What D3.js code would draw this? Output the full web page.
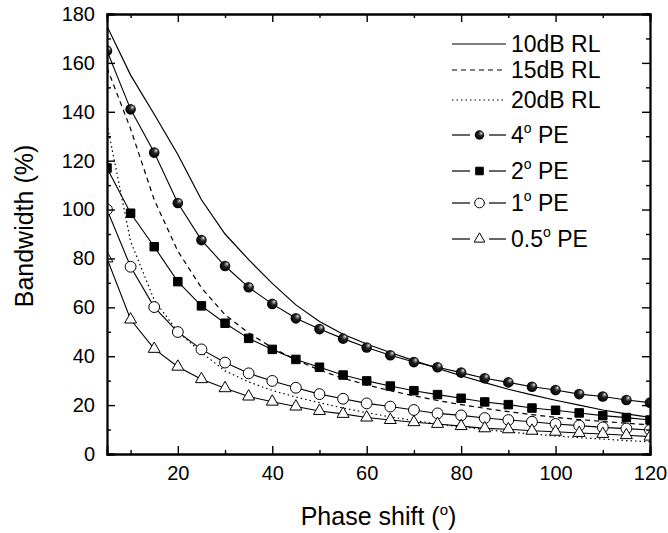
<!DOCTYPE html>
<html>
<head>
<meta charset="utf-8">
<script src="https://cdn.jsdelivr.net/npm/d3@7"></script>
<style>
  body { margin: 0; background: #fff; }
  text { font-family: "Liberation Sans", Arial, sans-serif; fill: #000; }
</style>
</head>
<body>
<svg id="chart" width="668" height="533"></svg>
<script>
// phase shift (deg) sampled every 5 degrees
const phase = [5, 10, 15, 20, 25, 30, 35, 40, 45, 50, 55, 60, 65, 70, 75, 80, 85, 90, 95, 100, 105, 110, 115, 120];

// return-loss limits (no markers)
const rl10 = [175, 155, 139, 122.5, 104, 90, 79.5, 69.8, 61, 54.2, 49, 45, 41.5, 38.2, 35, 32, 29.2, 26.5, 24.2, 22, 20, 18, 16.4, 15];
const rl15 = [158, 133, 104, 83, 68, 57, 49.5, 43.5, 38.5, 34.3, 31, 28.3, 25.9, 23.8, 21.9, 20.2, 18.7, 17.3, 16.1, 15, 14.1, 13.3, 12.6, 11.9];
const rl20 = [135, 87, 63, 50, 41.5, 34, 29.5, 26, 23.3, 21, 18.8, 16.9, 15.2, 13.7, 12.3, 11.1, 10, 9, 8.2, 7.4, 6.7, 6.1, 5.5, 5];

// phase-error curves (with markers)
const pe4  = [165, 141, 123.3, 102.7, 87.5, 76.9, 68.2, 61.4, 55.5, 51.1, 47.2, 43.6, 40.4, 37.6, 35.5, 33.3, 31, 29.3, 27.5, 26.2, 24.5, 23.5, 22.1, 21];
const pe2  = [117, 98.5, 84.8, 70.5, 60.6, 53.5, 47.3, 42.8, 38.7, 35.5, 32.3, 29.9, 27.8, 25.9, 24.3, 22.8, 21.3, 20.2, 18.8, 17.9, 16.8, 15.7, 14.9, 13.9];
const pe1  = [100, 76.6, 60.1, 49.9, 42.8, 37.4, 33, 29.9, 27.1, 24.5, 22.6, 20.7, 19.4, 18, 16.6, 15.8, 14.7, 13.9, 13.2, 12.3, 11.6, 10.9, 10.4, 9.8];
const pe05 = [80, 55, 43, 35.7, 30.6, 26.9, 23.5, 21.4, 19.4, 17.6, 16.4, 14.9, 13.9, 13, 12.3, 11.4, 10.5, 10.1, 9.5, 9.1, 8.6, 8.2, 7.7, 7.1];

const xMajor = [20, 40, 60, 80, 100, 120];
const xMinor = [10, 30, 50, 70, 90, 110];
const yMajor = [0, 20, 40, 60, 80, 100, 120, 140, 160, 180];
const yMinor = [10, 30, 50, 70, 90, 110, 130, 150, 170];

const svg = d3.select('#chart');
const plotL = 107, plotR = 650, plotT = 14, plotB = 454;

const x = d3.scaleLinear().domain([5, 120]).range([plotL, plotR]);
const y = d3.scaleLinear().domain([0, 180]).range([plotB, plotT]);

const defs = svg.append('defs');
defs.append('clipPath').attr('id', 'plot')
  .append('rect').attr('x', plotL).attr('y', plotT).attr('width', plotR - plotL).attr('height', plotB - plotT);

const grad = defs.append('radialGradient').attr('id', 'ball')
  .attr('cx', 0.55).attr('cy', 0.45).attr('r', 0.55).attr('fx', 0.7).attr('fy', 0.28);
grad.append('stop').attr('offset', 0).attr('stop-color', '#fff');
grad.append('stop').attr('offset', 0.15).attr('stop-color', '#999');
grad.append('stop').attr('offset', 0.45).attr('stop-color', '#222');
grad.append('stop').attr('offset', 1).attr('stop-color', '#000');

const line = d3.line().x(d => x(d[0])).y(d => y(d[1]));
const pairs = vals => phase.map((p, i) => [p, vals[i]]);

const plot = svg.append('g').attr('clip-path', 'url(#plot)');

const lineSeries = [
  {vals: rl10, dash: null},
  {vals: rl15, dash: '5,4'},
  {vals: rl20, dash: '1.5,3'}
];
lineSeries.forEach(s => {
  plot.append('path').datum(pairs(s.vals))
    .attr('d', line).attr('fill', 'none').attr('stroke', '#000')
    .attr('stroke-width', 1.2).attr('stroke-dasharray', s.dash);
});

const markerSeries = [
  {vals: pe4,  type: d3.symbolCircle,   size: 88, fill: 'url(#ball)'},
  {vals: pe2,  type: d3.symbolSquare,   size: 72, fill: '#000'},
  {vals: pe1,  type: d3.symbolCircle,   size: 92, fill: '#fff'},
  {vals: pe05, type: d3.symbolTriangle, size: 62, fill: '#fff'}
];
markerSeries.forEach(s => {
  plot.append('path').datum(pairs(s.vals))
    .attr('d', line).attr('fill', 'none').attr('stroke', '#000').attr('stroke-width', 1.1);
});
markerSeries.forEach(s => {
  plot.append('g').selectAll('path').data(pairs(s.vals)).enter()
    .append('path')
    .attr('transform', d => `translate(${x(d[0])},${y(d[1])})`)
    .attr('d', d3.symbol().type(s.type).size(s.size))
    .attr('fill', s.fill)
    .attr('stroke', s.fill === 'url(#ball)' ? 'none' : '#000')
    .attr('stroke-width', 1);
});

// axes, ticks pointing inward
function styleAxis(g) {
  g.select('.domain').attr('stroke-width', 1.8);
  g.selectAll('.tick line').attr('stroke-width', 1.4);
  g.selectAll('.tick text').style('font-size', '20px').style('font-family', '"Liberation Sans", Arial, sans-serif');
}
const axes = [
  {ax: d3.axisBottom(x), tr: `translate(0,${plotB})`, maj: xMajor, min: xMinor, labels: true},
  {ax: d3.axisTop(x), tr: `translate(0,${plotT})`, maj: xMajor, min: xMinor, labels: false},
  {ax: d3.axisLeft(y), tr: `translate(${plotL},0)`, maj: yMajor, min: yMinor, labels: true},
  {ax: d3.axisRight(y), tr: `translate(${plotR},0)`, maj: yMajor, min: yMinor, labels: false}
];
axes.forEach(a => {
  svg.append('g').attr('transform', a.tr)
    .call(a.ax.tickValues(a.min).tickSize(-4).tickFormat(''))
    .call(styleAxis);
  svg.append('g').attr('transform', a.tr)
    .call(a.ax.tickValues(a.maj).tickSize(-8).tickPadding(12).tickFormat(a.labels ? d3.format('d') : ''))
    .call(styleAxis);
});

// axis titles
svg.append('text').attr('x', (plotL + plotR) / 2).attr('y', 525)
  .attr('text-anchor', 'middle').style('font-size', '25px')
  .call(t => {
    t.append('tspan').text('Phase shift (');
    t.append('tspan').text('o').style('font-size', '15px').attr('dy', -10);
    t.append('tspan').text(')').attr('dy', 10);
  });
svg.append('text')
  .attr('transform', 'translate(33,226) rotate(-90)')
  .attr('text-anchor', 'middle').style('font-size', '25px')
  .text('Bandwidth (%)');

// legend
const legendItems = [
  {label: '10dB RL', deg: null, base: 52, dash: null},
  {label: '15dB RL', deg: null, base: 78, dash: '5,4'},
  {label: '20dB RL', deg: null, base: 108, dash: '1.5,3'},
  {label: '4', deg: true, base: 143, m: markerSeries[0]},
  {label: '2', deg: true, base: 179, m: markerSeries[1]},
  {label: '1', deg: true, base: 211, m: markerSeries[2]},
  {label: '0.5', deg: true, base: 247, m: markerSeries[3]}
];
const lg = svg.append('g');
legendItems.forEach(it => {
  const cy = it.base - 8;
  if (it.m) {
    lg.append('line').attr('x1', 452).attr('x2', 470).attr('y1', cy).attr('y2', cy).attr('stroke', '#000').attr('stroke-width', 1.2);
    lg.append('line').attr('x1', 489).attr('x2', 506).attr('y1', cy).attr('y2', cy).attr('stroke', '#000').attr('stroke-width', 1.2);
    lg.append('path').attr('transform', `translate(479.5,${cy})`)
      .attr('d', d3.symbol().type(it.m.type).size(it.m.size * 0.8))
      .attr('fill', it.m.fill)
      .attr('stroke', it.m.fill === 'url(#ball)' ? 'none' : '#000').attr('stroke-width', 1);
  } else {
    lg.append('line').attr('x1', 452).attr('x2', 506).attr('y1', cy).attr('y2', cy)
      .attr('stroke', '#000').attr('stroke-width', 1.2).attr('stroke-dasharray', it.dash);
  }
  const t = lg.append('text').attr('x', 511).attr('y', it.base).style('font-size', '23px');
  if (it.deg) {
    t.append('tspan').text(it.label);
    t.append('tspan').text('o').style('font-size', '14px').attr('dy', -10);
    t.append('tspan').text(' PE').attr('dy', 10);
  } else {
    t.text(it.label);
  }
});
</script>
</body>
</html>
